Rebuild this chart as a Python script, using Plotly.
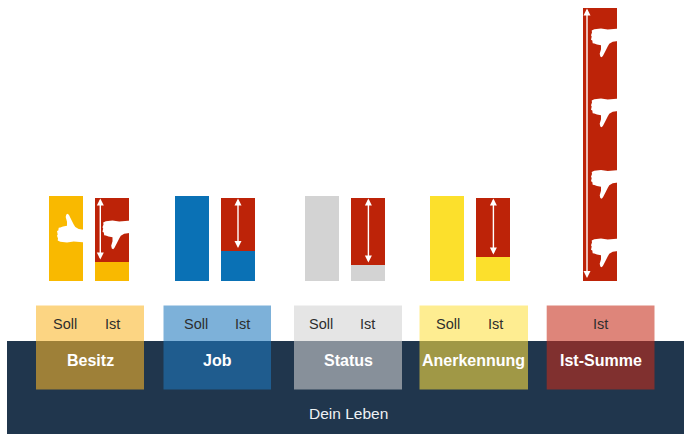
import plotly.graph_objects as go

# Values, measured upward from the common baseline
categories = ["Besitz", "Job", "Status", "Anerkennung"]
soll_values = [84.5, 84.5, 84.5, 84.5]
ist_filled = [18.5, 30, 15.5, 23.5]
ist_gap = [64.5, 53, 67.5, 59.5]
summe_label = "Ist-Summe"
summe_value = 273
soll_label = "Soll"
ist_label = "Ist"
life_label = "Dein Leben"

# Canvas geometry: x runs in pixels, y is the height above the baseline
WIDTH, HEIGHT = 684, 434
BASE_PX = 280.5
BAR_W = 34


def up(px):
    return BASE_PX - px


soll_x = [65.5, 191.8, 322.2, 447]
ist_x = [112.4, 238, 368.4, 493.4]
summe_x = 600.4
arrow_x = [100.3, 238, 368.4, 493.4]
summe_arrow_x = 587

panels = [
    (36, 144, "#fab729", 90, 65, 112),
    (163.5, 271, "#1f79bd", 217, 196, 242.7),
    (294, 402, "#d2d2d2", 348, 320.7, 367.3),
    (419.5, 528, "#fde041", 473.5, 448, 495),
    (546.7, 654.5, "#c62d1a", 600.5, None, 600),
]
soll_colors = ["#f9b900", "#0a71b5", "#d3d3d3", "#fce02c"]
RED = "#bd2308"
NAVY = "#20364d"

fig = go.Figure()
fig.add_bar(x=soll_x, y=soll_values, width=BAR_W, marker_color=soll_colors,
            marker_line_width=0, hoverinfo="skip", name=soll_label)
fig.add_bar(x=ist_x, y=ist_filled, width=BAR_W, marker_color=soll_colors,
            marker_line_width=0, hoverinfo="skip", name=ist_label)
fig.add_bar(x=ist_x, y=ist_gap, base=ist_filled, width=BAR_W, marker_color=RED,
            marker_line_width=0, hoverinfo="skip", name="Lücke")
fig.add_bar(x=[summe_x], y=[summe_value], width=BAR_W, marker_color=RED,
            marker_line_width=0, hoverinfo="skip", name=summe_label)

shapes = []
annotations = []

# Dark band for the life area, with translucent category panels over it
shapes.append(dict(type="rect", xref="x", yref="y", x0=7, x1=WIDTH, y0=up(341), y1=up(HEIGHT),
                   fillcolor=NAVY, line_width=0, layer="below"))
for x0, x1, color, *_ in panels:
    shapes.append(dict(type="rect", xref="x", yref="y", x0=x0, x1=x1, y0=up(305.5), y1=up(389.5),
                       fillcolor=color, opacity=0.58, line_width=0, layer="below"))

# Hand outline: fist with the thumb pointing down, right edge is the cuff
HAND = [(10, 2), (30, 0), (50, 3), (86, 0), (86, 37), (65, 40), (55, 46), (50, 54), (44, 66),
        (36, 82), (32, 86), (28, 84), (26, 76), (30, 62), (30, 50), (18, 48), (10, 45), (5, 44),
        (4, 36), (0, 34), (2, 24), (0, 20), (3, 12), (2, 6)]


def hand_shape(left, top, flip=False):
    pts = []
    for hx, hy in HAND:
        py = 86 - hy if flip else hy
        pts.append((left + hx / 3, up(top + py / 3)))
    path = "M" + " L".join(f"{a:.1f},{b:.1f}" for a, b in pts) + " Z"
    return dict(type="path", xref="x", yref="y", path=path, fillcolor="white", line_width=0)


shapes.append(hand_shape(57, 213.7, flip=True))
shapes.append(hand_shape(102.5, 220.5))
for top in (28.5, 98.5, 170, 238.5):
    shapes.append(hand_shape(591, top))


def double_arrow(x, low, high):
    annotations.append(dict(x=x, y=high, ax=x, ay=low, xref="x", yref="y", axref="x", ayref="y",
                            text="", showarrow=True, arrowhead=2, arrowside="end+start",
                            arrowcolor="white", arrowwidth=1.4, arrowsize=1.0,
                            standoff=0, startstandoff=0))


for x, filled, gap in zip(arrow_x, ist_filled, ist_gap):
    double_arrow(x, filled + 1, filled + gap - 1)
double_arrow(summe_arrow_x, 1, summe_value - 1)


def label(text, x, y_px, size, color, bold=False):
    annotations.append(dict(x=x, y=up(y_px), xref="x", yref="y", showarrow=False,
                            text=f"<b>{text}</b>" if bold else text,
                            font=dict(size=size, color=color, family="Liberation Sans"),
                            xanchor="center", yanchor="middle"))


names = categories + [summe_label]
for name, (_, _, _, center, sx, ix) in zip(names, panels):
    label(name, center, 360.5, 16, "white", bold=True)
    if sx is not None:
        label(soll_label, sx, 324, 14.5, "#2d2d2d")
    label(ist_label, ix, 324, 14.5, "#2d2d2d")
label(life_label, 348, 413.5, 15.5, "#eef1f4")

fig.update_layout(
    width=WIDTH, height=HEIGHT, margin=dict(l=0, r=0, t=0, b=0),
    paper_bgcolor="white", plot_bgcolor="white", showlegend=False,
    barmode="overlay", bargap=0, shapes=shapes, annotations=annotations,
    xaxis=dict(range=[0, WIDTH], visible=False, fixedrange=True),
    yaxis=dict(range=[up(HEIGHT), up(0)], visible=False, fixedrange=True),
)
fig.update_traces(opacity=1)
fig.write_html("out.html", config={"displayModeBar": False})
